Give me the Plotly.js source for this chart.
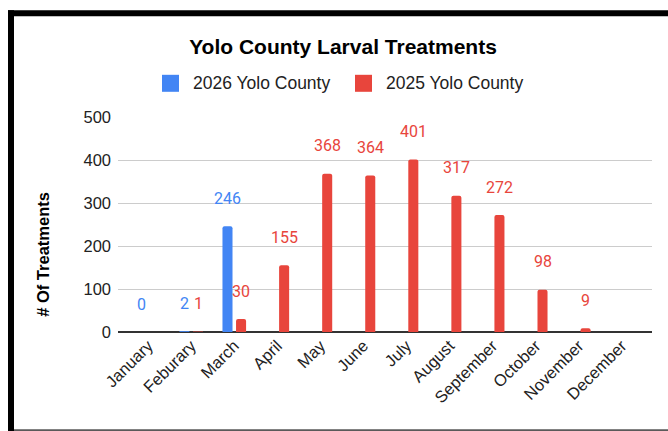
<!DOCTYPE html>
<html>
<head>
<meta charset="utf-8">
<script src="https://cdn.plot.ly/plotly-3.0.1.min.js"></script>
<style>
  html, body { margin: 0; padding: 0; background: #fff; overflow: hidden; }
  #chart { width: 668px; height: 431px; }
</style>
</head>
<body>
<div id="chart"></div>
<script>
const months = ["January", "Feburary", "March", "April", "May", "June", "July", "August", "September", "October", "November", "December"];
const series2026 = [0, 2, 246, null, null, null, null, null, null, null, null, null];
const series2025 = [null, 1, 30, 155, 368, 364, 401, 317, 272, 98, 9, null];
const name2026 = "2026 Yolo County";
const name2025 = "2025 Yolo County";
const color2026 = "#4285F4";
const color2025 = "#E8453C";

const traces = [
  { type: "bar", name: name2026, x: months, y: series2026, marker: { color: color2026, cornerradius: 2 }, hoverinfo: "skip" },
  { type: "bar", name: name2025, x: months, y: series2025, marker: { color: color2025, cornerradius: 2 }, hoverinfo: "skip" }
];

// plot area in pixels (for placing non-data decorations)
const W = 668, H = 431, L = 118, R = 16, T = 116.7, B = 99.3;
const pw = W - L - R, ph = H - T - B;
const px = v => (v - L) / pw;          // pixel x -> paper x
const py = v => (H - B - v) / ph;      // pixel y -> paper y

const annotations = [];
function addLabels(vals, color, shift) {
  vals.forEach((v, i) => {
    if (v === null) return;
    annotations.push({
      x: months[i], y: v, xref: "x", yref: "y", text: String(v), showarrow: false,
      xanchor: "center", yanchor: "middle", xshift: shift, yshift: 28,
      font: { family: "Roboto, Arial, sans-serif", size: 16, color: color }
    });
  });
}
addLabels(series2026, color2026, -6.8);
addLabels(series2025, color2025, 6.8);

// y-axis title
annotations.push({
  text: "<b># Of Treatments</b>", xref: "paper", yref: "paper", x: px(43.5), y: py(254),
  xanchor: "center", yanchor: "middle", textangle: -90, showarrow: false,
  font: { family: "Liberation Sans, Arial, sans-serif", size: 16.5, color: "#000" }
});

// custom legend (larger swatches like the reference)
const legendItems = [
  { name: name2026, color: color2026, sx: 170.5, tx: 191 },
  { name: name2025, color: color2025, sx: 363.5, tx: 384 }
];
const shapes = [];
legendItems.forEach(it => {
  shapes.push({
    type: "rect", xref: "paper", yref: "paper", xsizemode: "pixel", ysizemode: "pixel",
    xanchor: px(it.sx), yanchor: py(83), x0: -8.5, x1: 8.5, y0: -8.5, y1: 8.5,
    fillcolor: it.color, line: { width: 0 }
  });
  annotations.push({
    text: it.name, xref: "paper", yref: "paper", x: px(it.tx), y: py(83),
    xanchor: "left", yanchor: "middle", showarrow: false,
    font: { family: "Liberation Sans, Arial, sans-serif", size: 17.5, color: "#222" }
  });
});

// frame around the chart (black left/top, thin grey bottom)
shapes.push({ type: "rect", xref: "paper", yref: "paper", x0: px(8), x1: px(14), y0: py(H), y1: py(10),
  fillcolor: "#000", line: { width: 0 }, layer: "above" });
shapes.push({ type: "rect", xref: "paper", yref: "paper", x0: px(8), x1: px(W), y0: py(16), y1: py(10),
  fillcolor: "#000", line: { width: 0 }, layer: "above" });
shapes.push({ type: "rect", xref: "paper", yref: "paper", x0: px(14), x1: px(W), y0: py(H), y1: py(429),
  fillcolor: "#5a5a5a", line: { width: 0 }, layer: "above" });

const layout = {
  width: W, height: H,
  margin: { l: L, r: R, t: T, b: B, pad: 0 },
  paper_bgcolor: "#fff", plot_bgcolor: "#fff",
  title: {
    text: "<b>Yolo County Larval Treatments</b>",
    x: 0.5135, xref: "container", xanchor: "center",
    y: 0.891, yref: "container", yanchor: "middle",
    font: { family: "Liberation Sans, Arial, sans-serif", size: 21, color: "#000" }
  },
  barmode: "group", bargap: 0.37, bargroupgap: 0.26,
  showlegend: false,
  xaxis: {
    type: "category", range: [-0.7, 11.7], tickangle: -45, showgrid: false,
    ticks: "", showline: false, zeroline: false, fixedrange: true,
    tickfont: { family: "Liberation Sans, Arial, sans-serif", size: 16.5, color: "#222" }
  },
  yaxis: {
    range: [0, 500], dtick: 100, tick0: 0, showgrid: true, gridcolor: "#cccccc", gridwidth: 1,
    zeroline: true, zerolinecolor: "#333333", zerolinewidth: 1.5, ticks: "", ticklabelstandoff: 6,
    fixedrange: true,
    tickfont: { family: "Liberation Sans, Arial, sans-serif", size: 16.5, color: "#222" }
  },
  shapes: shapes,
  annotations: annotations
};

Plotly.newPlot("chart", traces, layout, { displayModeBar: false, staticPlot: true });
</script>
</body>
</html>
